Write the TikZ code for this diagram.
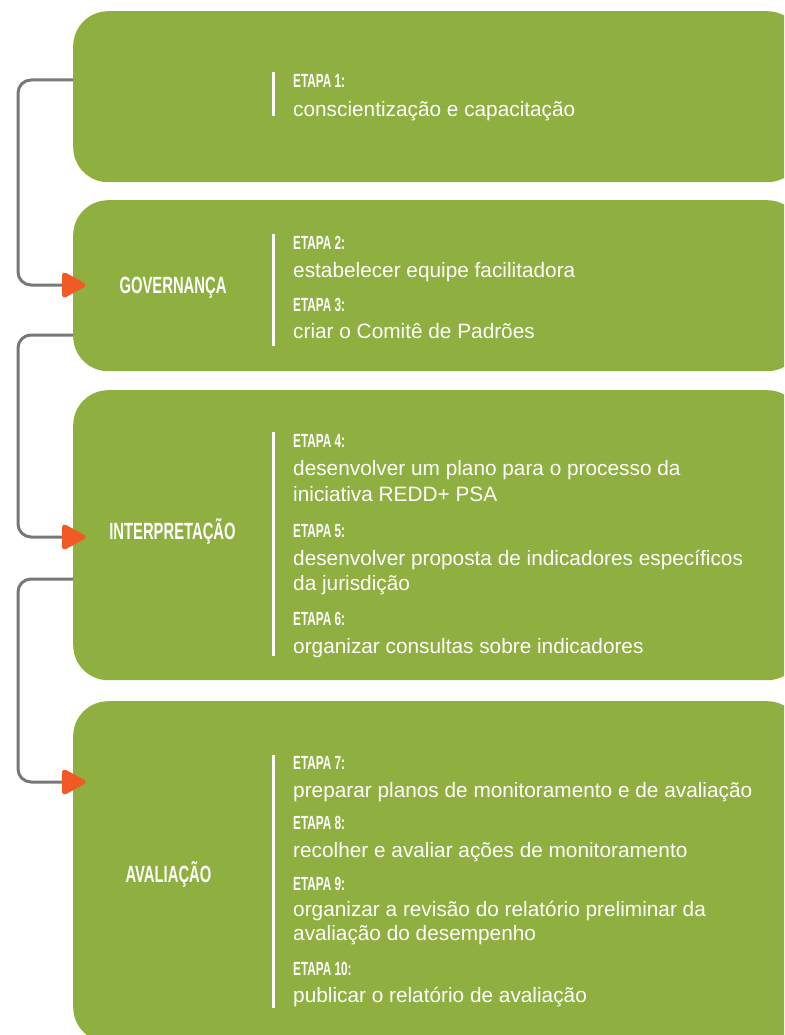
\documentclass[tikz,border=0pt]{standalone}
\usepackage{fontspec}
\usepackage{graphicx}
\setmainfont{Liberation Sans}
\usetikzlibrary{calc}
\definecolor{stage}{HTML}{8FB040}
\definecolor{wire}{HTML}{77787B}
\definecolor{pointer}{HTML}{F15A24}
\newcommand\condensed[2]{\scalebox{#1}[1]{#2}}
\tikzset{
  box/.style={fill=stage, rounded corners=35pt, anchor=north west, inner sep=0pt, minimum width=729pt},
  link/.style={draw=wire, line width=3pt, rounded corners=13pt},
  pointerhead/.style={fill=pointer, draw=pointer, line width=5pt, line join=round},
  rule/.style={draw=white, line width=3pt},
  stepname/.style={anchor=base west, inner sep=0pt, text=white, font=\fontsize{19}{22}\selectfont\bfseries},
  stepdesc/.style={anchor=base west, inner sep=0pt, text=white, font=\fontsize{20.8}{24}\selectfont},
  phase/.style={anchor=base, inner sep=0pt, text=white, font=\fontsize{23.5}{26}\selectfont\bfseries}
}
\newcommand\etapa[1]{\condensed{0.62}{ETAPA #1:}}
\begin{document}
\begin{tikzpicture}[x=1pt, y=-1pt]
\useasboundingbox (0,0) rectangle (784,1035);
\clip (0,0) rectangle (784,1035);

% stage panels
\node[box, minimum height=171pt] (b1) at (73,11) {};
\node[box, minimum height=171pt] (b2) at (73,200) {};
\node[box, minimum height=290pt] (b3) at (73,390) {};
\node[box, minimum height=341pt] (b4) at (73,701) {};

% connectors along the left rail
\coordinate (rail) at (18,0);
\coordinate (s1) at ($(b1.north west)+(0,69)$);
\coordinate (s2) at ($(b2.north west)+(0,135)$);
\coordinate (s3) at ($(b3.north west)+(0,189)$);
\coordinate (t2) at (62,285);
\coordinate (t3) at (62,537);
\coordinate (t4) at (62,782);
\draw[link] (s1) -- (s1 -| rail) -- (rail |- t2) -- (t2);
\draw[link] (s2) -- (s2 -| rail) -- (rail |- t3) -- (t3);
\draw[link] (s3) -- (s3 -| rail) -- (rail |- t4) -- (t4);
\foreach \t in {t2,t3,t4}
  \filldraw[pointerhead] (\t) ++(2.5,-10) -- ++(18.5,10) -- ++(-18.5,10) -- cycle;

% phase titles
\node[phase] (p2) at (173,293) {\condensed{0.63}{GOVERNANÇA}};
\node[phase] (p3) at (172.5,539) {\condensed{0.63}{INTERPRETAÇÃO}};
\node[phase] (p4) at (168.5,882) {\condensed{0.63}{AVALIAÇÃO}};

% separators
\draw[rule] (273,72) -- (273,116);
\draw[rule] (273,234) -- (273,346);
\draw[rule] (273,432) -- (273,656);
\draw[rule] (273,755) -- (273,1008);

% step 1
\node[stepname] (e1) at (293,88) {\etapa{1}};
\node[stepdesc] (d1) at (293,117) {conscientização e capacitação};
% steps 2-3
\node[stepname] (e2) at (293,249) {\etapa{2}};
\node[stepdesc] (d2) at (293,277) {estabelecer equipe facilitadora};
\node[stepname] (e3) at (293,311) {\etapa{3}};
\node[stepdesc] (d3) at (293,338) {criar o Comitê de Padrões};
% steps 4-6
\node[stepname] (e4) at (293,447) {\etapa{4}};
\node[stepdesc] (d4a) at (293,475) {desenvolver um plano para o processo da};
\node[stepdesc] (d4b) at (293,501) {iniciativa REDD+ PSA};
\node[stepname] (e5) at (293,537) {\etapa{5}};
\node[stepdesc] (d5a) at (293,565) {desenvolver proposta de indicadores específicos};
\node[stepdesc] (d5b) at (293,590) {da jurisdição};
\node[stepname] (e6) at (293,625) {\etapa{6}};
\node[stepdesc] (d6) at (293,653) {organizar consultas sobre indicadores};
% steps 7-10
\node[stepname] (e7) at (293,769) {\etapa{7}};
\node[stepdesc] (d7) at (293,797) {preparar planos de monitoramento e de avaliação};
\node[stepname] (e8) at (293,829) {\etapa{8}};
\node[stepdesc] (d8) at (293,857) {recolher e avaliar ações de monitoramento};
\node[stepname] (e9) at (293,890) {\etapa{9}};
\node[stepdesc] (d9a) at (293,916) {organizar a revisão do relatório preliminar da};
\node[stepdesc] (d9b) at (293,940) {avaliação do desempenho};
\node[stepname] (e10) at (293,975) {\etapa{10}};
\node[stepdesc] (d10) at (293,1002) {publicar o relatório de avaliação};
\end{tikzpicture}
\end{document}
